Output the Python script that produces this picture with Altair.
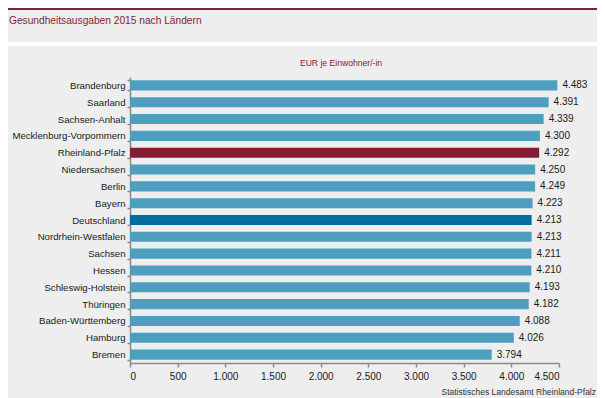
import altair as alt
import pandas as pd

laender = ["Brandenburg", "Saarland", "Sachsen-Anhalt", "Mecklenburg-Vorpommern",
           "Rheinland-Pfalz", "Niedersachsen", "Berlin", "Bayern", "Deutschland",
           "Nordrhein-Westfalen", "Sachsen", "Hessen", "Schleswig-Holstein",
           "Thüringen", "Baden-Württemberg", "Hamburg", "Bremen"]
werte = [4483, 4391, 4339, 4300, 4292, 4250, 4249, 4223, 4213,
         4213, 4211, 4210, 4193, 4182, 4088, 4026, 3794]
x_ticks = [0, 500, 1000, 1500, 2000, 2500, 3000, 3500, 4000, 4500]

titel = "Gesundheitsausgaben 2015 nach Ländern"
untertitel = "EUR je Einwohner/-in"
quelle = "Statistisches Landesamt Rheinland-Pfalz"

df = pd.DataFrame({"land": laender, "wert": werte})
deko = pd.DataFrame({"titel": [titel], "untertitel": [untertitel], "quelle": [quelle]})

W, H = 429, 286
FONT = "Liberation Sans"
DARKRED = "#841C34"
GRAY_AX = "#8A8A8A"
fmt = "replace(format(datum.wert, ','), ',', '.')"

base = alt.Chart(df).transform_calculate(
    gruppe="datum.land == 'Deutschland' ? 'D' : (datum.land == 'Rheinland-Pfalz' ? 'RP' : 'L')",
    label=fmt,
)

y_enc = alt.Y("land:N", sort=laender,
              scale=alt.Scale(paddingInner=0.4, paddingOuter=0.2),
              axis=alt.Axis(title=None, tickBand="extent", tickSize=3, tickColor=GRAY_AX,
                            tickWidth=1.5, domainColor=GRAY_AX, domainWidth=1.5,
                            labelPadding=2, labelFontSize=9.6, labelColor="#1a1a1a",
                            labelFont=FONT, labelLimit=200))
x_enc = alt.X("wert:Q", scale=alt.Scale(domain=[0, 4500], nice=False),
              axis=alt.Axis(title=None, values=x_ticks, grid=False, tickSize=4,
                            tickColor=GRAY_AX, tickWidth=1.5, domainColor=GRAY_AX,
                            domainWidth=1.5, labelPadding=4, labelFontSize=10,
                            labelColor="#1a1a1a", labelFont=FONT,
                            labelExpr="replace(format(datum.value, ','), ',', '.')"))

bars = base.mark_bar().encode(
    y=y_enc, x=x_enc,
    color=alt.Color("gruppe:N", legend=None,
                    scale=alt.Scale(domain=["L", "D", "RP"],
                                    range=["#4E9EC0", "#006EA0", DARKRED])),
)

labels = base.mark_text(align="left", baseline="middle", dx=5, fontSize=10,
                        font=FONT, color="#1a1a1a").encode(
    y=alt.Y("land:N", sort=laender), x="wert:Q", text="label:N")

dchart = alt.Chart(deko)
white_strip = dchart.mark_rect(color="white").encode(
    x=alt.value(-122), x2=alt.value(467), y=alt.value(-35), y2=alt.value(-31))
red_line = dchart.mark_rect(color=DARKRED).encode(
    x=alt.value(-122), x2=alt.value(467), y=alt.value(-69), y2=alt.value(-67))
head = dchart.mark_text(align="left", baseline="middle", fontSize=10.2, font=FONT,
                        color=DARKRED).encode(
    x=alt.value(-121), y=alt.value(-56), text="titel:N")
sub = dchart.mark_text(align="center", baseline="middle", fontSize=8.6, font=FONT,
                       color=DARKRED).encode(
    x=alt.value(211), y=alt.value(-14), text="untertitel:N")
src = dchart.mark_text(align="right", baseline="middle", fontSize=8.5, font=FONT,
                       color="#333333").encode(
    x=alt.value(466), y=alt.value(315), text="quelle:N")

chart = alt.layer(white_strip, red_line, head, sub, bars, labels, src).properties(
    width=W, height=H,
    autosize=alt.AutoSizeParams(type="none"),
    padding={"left": 122, "top": 69, "right": 38, "bottom": 35},
    background="#EDEEED",
).configure_view(stroke=None)

chart.save("out.html", embed_options={"renderer": "svg", "actions": False})
